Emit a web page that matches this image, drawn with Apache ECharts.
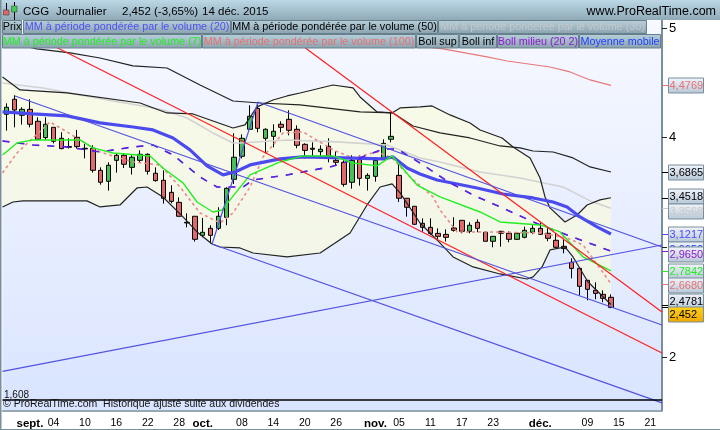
<!DOCTYPE html>
<html><head><meta charset="utf-8">
<style>html,body{margin:0;padding:0;background:#fff}#c{width:720px;height:430px}</style>
<script src="https://cdn.jsdelivr.net/npm/echarts@6/dist/echarts.min.js"></script>
</head><body><div id="c"></div>
<script>
// Trading days
const augDays=['27/08','28/08','31/08'];
const sepDays=[1,2,3,4,7,8,9,10,11,14,15,16,17,18,21,22,23,24,25,28,29,30].map(d=>d+'/09');
const octDays=[1,2,5,6,7,8,9,12,13,14,15,16,19,20,21,22,23,26,27,28,29,30].map(d=>d+'/10');
const novDays=[2,3,4,5,6,9,10,11,12,13,16,17,18,19,20,23,24,25,26,27,30].map(d=>d+'/11');
const decDays=[1,2,3,4,7,8,9,10,11,14,15,16,17,18,21,22].map(d=>d+'/12');
const categories=[...augDays,...sepDays,...octDays,...novDays,...decDays];
const tickLabels={3:'sept.',6:'04',10:'10',14:'16',18:'22',22:'28',25:'oct.',30:'08',34:'14',38:'20',42:'26',47:'nov.',50:'05',54:'11',58:'17',62:'23',68:'déc.',74:'09',78:'15',82:'21'};
const monthLabels=['sept.','oct.','nov.','déc.'];
const priceTicks=[5,4,3,2];

// open, close, low, high
const candles=[
[4.213,4.277,4.064,4.313],[4.350,4.252,4.094,4.386],[4.204,4.258,4.119,4.277],[4.258,4.122,4.094,4.350],
[4.149,3.985,3.979,4.185],[4.000,4.122,3.979,4.185],[4.094,3.967,3.948,4.094],[3.994,3.900,3.894,4.049],
[3.918,3.912,3.900,3.994],[4.003,3.918,3.900,4.070],[3.903,3.897,3.811,3.942],[3.903,3.702,3.681,3.930],
[3.702,3.593,3.571,3.729],[3.602,3.748,3.517,3.775],[3.793,3.839,3.681,3.857],[3.839,3.757,3.723,3.857],
[3.729,3.821,3.663,3.839],[3.793,3.848,3.775,3.884],[3.848,3.693,3.663,3.857],[3.675,3.608,3.599,3.729],
[3.611,3.447,3.398,3.702],[3.501,3.419,3.401,3.565],[3.410,3.283,3.280,3.456],[3.228,3.222,3.182,3.310],
[3.283,3.073,3.052,3.283],[3.109,3.137,3.091,3.267],[3.173,3.109,3.036,3.201],[3.173,3.283,3.158,3.365],
[3.273,3.538,3.201,3.547],[3.620,3.821,3.577,4.040],[3.830,3.994,3.811,4.030],[4.076,4.195,4.076,4.295],
[4.267,4.085,4.049,4.322],[3.994,4.076,3.857,4.085],[4.012,4.058,3.912,4.122],[4.122,4.094,4.049,4.149],
[4.167,4.067,4.021,4.249],[4.076,3.930,3.903,4.112],[3.939,3.884,3.811,3.948],[3.903,3.894,3.830,3.957],
[3.872,3.894,3.827,3.930],[3.921,3.830,3.775,3.994],[3.793,3.775,3.748,3.875],[3.775,3.574,3.553,3.793],
[3.593,3.793,3.535,3.839],[3.802,3.629,3.562,3.839],[3.629,3.656,3.517,3.675],[3.647,3.793,3.599,3.821],
[3.802,3.948,3.796,3.985],[3.985,4.012,3.957,4.231],[3.656,3.447,3.413,3.766],[3.447,3.365,3.280,3.447],
[3.374,3.210,3.204,3.374],[3.219,3.182,3.143,3.264],[3.182,3.127,3.112,3.264],[3.127,3.100,3.073,3.173],
[3.118,3.091,3.052,3.164],[3.176,3.155,3.143,3.274],[3.246,3.146,3.128,3.246],[3.146,3.201,3.128,3.228],
[3.228,3.173,3.137,3.255],[3.137,3.055,3.055,3.143],[3.055,3.100,3.000,3.100],[3.146,3.128,3.006,3.146],
[3.128,3.073,3.046,3.146],[3.073,3.128,3.070,3.137],[3.091,3.155,3.082,3.188],[3.137,3.173,3.119,3.201],
[3.173,3.119,3.112,3.228],[3.128,3.082,3.055,3.188],[3.064,3.000,2.991,3.128],[3.009,2.988,2.945,3.073],
[2.863,2.808,2.717,2.900],[2.808,2.644,2.562,2.808],[2.699,2.617,2.517,2.699],[2.608,2.580,2.526,2.681],
[2.571,2.535,2.499,2.608],[2.544,2.452,2.445,2.571]
];

// [day position, value]
const bollSup=[[-0.5,4.553],[1.73,4.435],[7.72,4.408],[17.02,4.316],[20.45,4.225],[23.77,4.216],[26.31,4.152],[28.86,4.088],[30.39,4.116],[31.92,4.280],[33.96,4.343],[35.74,4.380],[37.4,4.407],[41.6,4.480],[44.15,4.453],[45.04,4.371],[47.21,4.234],[49.12,4.225],[50.14,4.271],[52.68,4.280],[54.21,4.289],[56.5,4.207],[59.05,4.134],[60.33,4.070],[63.13,3.997],[64.53,3.915],[66.7,3.815],[67.97,3.632],[68.6,3.459],[69.24,3.359],[71.15,3.231],[72.68,3.295],[73.96,3.386],[75.6,3.432],[77,3.4518]];
const bollInf=[[-0.5,3.368],[0.84,3.413],[2.11,3.423],[10.26,3.423],[11.92,3.368],[14.47,3.386],[16.63,3.541],[17.91,3.550],[19.94,3.459],[22.49,3.277],[24.28,3.140],[26.19,3.030],[27.2,3.003],[29.75,2.994],[31.41,2.948],[35.74,2.912],[39.95,2.948],[43.77,3.131],[45.93,3.386],[47.59,3.550],[49.12,3.578],[50.14,3.496],[52.68,3.222],[54.85,3.067],[56.89,2.912],[59.44,2.821],[62.87,2.757],[66.31,2.711],[67.08,2.730],[68.22,2.821],[69.24,2.976],[71.15,3.003],[72.17,2.912],[74.08,2.684],[77,2.4781]];
const mm50=[[0,4.872],[3.89,4.809],[8.1,4.772],[11.92,4.726],[16.12,4.654],[20.45,4.635],[24.66,4.480],[28.86,4.334],[32.3,4.316],[37.4,4.298],[45.04,4.234],[49.24,4.225],[51.79,4.106],[55.23,4.043],[59.05,3.997],[62.87,3.924],[65.42,3.906],[67.08,3.878],[69.63,3.869],[72.17,3.815],[74.34,3.733],[77,3.6865]];
const mm30=[[-0.5,4.498],[4.66,4.453],[12.81,4.343],[16.63,4.298],[19.94,4.252],[23,4.179],[26.31,4.043],[28.86,3.951],[29.75,3.951],[35.74,3.979],[42.11,3.961],[48.48,3.933],[52.68,3.815],[55.23,3.778],[60.33,3.687],[65.42,3.632],[70.9,3.550],[74.34,3.423],[77,3.3568]];
const mm20=[[-0.5,4.234],[3.38,4.216],[7.72,4.198],[11.92,4.134],[16.12,4.097],[18.67,4.070],[21.22,3.997],[23.38,3.888],[25.55,3.742],[27.59,3.660],[29.12,3.687],[31.03,3.751],[34.85,3.806],[37.78,3.824],[42.87,3.815],[47.97,3.806],[49.24,3.824],[51.03,3.723],[52.68,3.669],[54.85,3.614],[59.95,3.541],[63.26,3.486],[67.08,3.450],[69.63,3.413],[71.41,3.368],[73.06,3.277],[75.23,3.186],[77,3.1217]];
const bollMid=[[-0.5,3.970],[3.38,3.933],[7.72,3.915],[11.92,3.869],[16.12,3.915],[18.67,3.933],[21.22,3.842],[24.66,3.641],[26.82,3.550],[30.14,3.550],[31.41,3.614],[35.74,3.660],[41.22,3.733],[45.04,3.815],[47.97,3.897],[49.75,3.897],[52.68,3.769],[56.5,3.587],[59.44,3.477],[63.76,3.340],[67.97,3.204],[71.41,3.113],[77,2.965]];
const mm7=[[-0.5,3.842],[1.35,3.951],[3.38,3.979],[9.37,3.979],[11.03,3.906],[13.58,3.860],[18.29,3.833],[19.94,3.723],[22.49,3.587],[24.28,3.413],[26.31,3.322],[27.46,3.340],[28.48,3.432],[31.03,3.660],[34.85,3.778],[37.78,3.833],[41.6,3.833],[44.15,3.769],[47.21,3.742],[49.12,3.833],[52.3,3.568],[55.23,3.459],[60.33,3.322],[62.87,3.231],[67.97,3.204],[70.52,3.140],[73.45,2.912],[77,2.7842]];
const maShort=[[-0.5,3.678],[1.35,3.860],[3.38,3.997],[5.55,4.143],[7.72,4.052],[9.37,3.979],[11.92,3.869],[16.12,3.778],[19.56,3.751],[22.11,3.550],[24.66,3.313],[27.2,3.222],[28.86,3.313],[31.03,3.550],[32.69,3.824],[35.23,4.043],[37.78,4.052],[41.6,3.888],[44.15,3.815],[47.21,3.869],[49.12,3.815],[51.41,3.641],[54.34,3.459],[55.23,3.340],[57.4,3.140],[61.6,3.140],[67.97,3.131],[71.41,3.085],[73.45,3.021],[77,2.668]];
const mm100=[[50.1,4.854],[55.61,4.809],[61.22,4.736],[63.77,4.699],[69.24,4.644],[71.79,4.599],[74.34,4.526],[77,4.4769]];

// straight trend lines
const redLines=[[[3,4.945],[83.5,2.037]],[[35.5,4.954],[83.5,2.410]]];
const blueLines=[[[1.09,4.380],[83.5,2.292]],[[32.05,4.325],[83.5,3.003]],[[26.19,3.030],[32.05,4.325]],[[26.19,3.030],[83.5,1.581]],[[-0.5,1.868],[83.5,3.021]]];
const lowestValue=1.608;

// last-value tags on the price scale
const tagValues=[4.4769,3.6865,3.4518,3.3568,3.1217,2.965,2.965,2.7842,2.668,2.4781,2.452];
const tagTexts=['4,4769','3,6865','3,4518','3,3568','3,1217','2,9650','2,9650','2,7842','2,6680','2,4781','2,452'];
const tagColors=['#e87070','#000','#000','#c8c8c8','#4a4aff','#2040ff','#9018d0','#22ee22','#e87070','#000','#000'];
const tagShift=[0,0,-2,3,0,-2,3,0,1,-4,7];

const legendRows=[
 [['Prix','#000',2,22],['MM à période pondérée par le volume (20)','#5050f0',23,231],['MM à période pondérée par le volume (50)','#000',231,438],['MM à période pondérée par le volume (30)','#c4c8cc',438,647]],
 [['MM à période pondérée par le volume (7)','#22ee22',2,202],['MM à période pondérée par le volume (100)','#e87070',202,416],['Boll sup','#000',416,459],['Boll inf','#000',459,497],['Boll milieu (20 2)','#9018d0',497,579],['Moyenne mobile','#2040ff',579,661]]
];

const FONT='"Liberation Sans",Arial,sans-serif';
const LG=(a,b)=>new echarts.graphic.LinearGradient(0,0,0,1,[{offset:0,color:a},{offset:1,color:b}]);
const chart=echarts.init(document.getElementById('c'),null,{renderer:'canvas'});

function line(name,data,color,width,extra){
  return Object.assign({name,type:'line',xAxisIndex:1,yAxisIndex:0,data,showSymbol:false,symbol:'none',silent:true,z:4,
    lineStyle:Object.assign({color,width},extra||{})});
}
const graphics=[];
// outer frame + header
graphics.push({type:'rect',shape:{x:0,y:0,width:720,height:20},style:{fill:LG('#bcd8e6','#8fa9b7')},z:100});
graphics.push({type:'rect',shape:{x:0,y:0,width:1.5,height:430},style:{fill:'#7a8f9c'},z:100});
graphics.push({type:'rect',shape:{x:0,y:429,width:720,height:1},style:{fill:'#7a8f9c'},z:100});
[[6,3,8,'#000',1],[3.5,10,5,'#e06666',7],[14,2,18,'#000',1],[11.5,6,6,'#44cc55',10]].forEach(function(r){
  graphics.push({type:'rect',shape:{x:r[0],y:r[1],width:r[3]==='#000'?1:5.5,height:r[2]},style:{fill:r[3],stroke:r[3]==='#000'?null:'#333',lineWidth:.5},z:101});
});
[['CGG',23],['Journalier',56],['2,452 (-3,65%)',122],['14 déc. 2015',202]].forEach(function(t){
  graphics.push({type:'text',x:t[1],y:11.5,style:{text:t[0],fill:'#000',font:'11.5px '+FONT,verticalAlign:'middle'},z:102});
});
graphics.push({type:'text',x:716,y:11.5,style:{text:'www.ProRealTime.com',fill:'#000',font:'12.5px '+FONT,align:'right',verticalAlign:'middle'},z:102});
legendRows.forEach(function(row,r){
  const y=r===0?20.5:34.5, h=r===0?13:13.5;
  row.forEach(function(it){
    graphics.push({type:'rect',shape:{x:it[2]+.5,y:y,width:it[3]-it[2]-1,height:h},style:{fill:LG('#b8d0dc','#8aa2ae'),stroke:'#66808c',lineWidth:1},z:100});
    graphics.push({type:'text',x:(it[2]+it[3])/2,y:y+h/2+.5,style:{text:it[0],fill:it[1],font:'10.8px '+FONT,align:'center',verticalAlign:'middle'},z:102});
  });
});
graphics.push({type:'text',x:4,y:395,style:{text:'1,608',fill:'#111',font:'10px '+FONT,verticalAlign:'middle'},z:50});
graphics.push({type:'text',x:3,y:404.5,style:{text:'© ProRealTime.com  Historique ajusté suite aux dividendes',fill:'#111',font:'10.5px '+FONT,verticalAlign:'middle'},z:50});

const series=[
 {name:'Bande',type:'custom',xAxisIndex:1,yAxisIndex:0,clip:true,silent:true,z:1,data:[[0,3]],encode:{x:0,y:1},
  renderItem:function(p,api){
    const pts=bollSup.concat(bollInf.slice().reverse()).map(q=>api.coord(q));
    return {type:'polygon',shape:{points:pts},style:{fill:'rgba(255,255,210,0.5)'}};
  }},
 {name:'Prix',type:'candlestick',xAxisIndex:0,yAxisIndex:0,data:candles,barWidth:5,silent:true,z:3,
  itemStyle:{color:'#46c255',color0:'#e06a6a',borderColor:'#000',borderColor0:'#000',borderWidth:1}},
 line('MM100',mm100,'#e87878',1.2),
 line('MM50',mm50,'#222',1.2),
 line('MM30',mm30,'#d2d2d2',1.6),
 line('Boll sup',bollSup,'#222',1.2),
 line('Boll inf',bollInf,'#222',1.2),
 line('Court',maShort,'#e88a8a',1.6,{type:[3,3]}),
 line('MM20',mm20,'#4a4aee',3.2),
 line('Moyenne mobile',bollMid,'#2020f0',1.6,{type:[7,8]}),
 line('Boll milieu',bollMid,'#9018d0',0.8,{type:[7,8]}),
 line('MM7',mm7,'#22ee22',1.4)
];
redLines.forEach((d,i)=>series.push(line('red'+i,d,'#ff2020',1.2)));
blueLines.forEach((d,i)=>series.push(line('blue'+i,d,'#5252e0',1.2)));
series.push(line('Plus bas',[[-0.5,lowestValue],[83.5,lowestValue]],'#000',1.5));
series.push({name:'Tags',type:'custom',xAxisIndex:1,yAxisIndex:0,clip:false,silent:true,z:20,
  data:tagValues.map(v=>[83.5,v]),encode:{x:0,y:1},
  renderItem:function(p,api){
    const i=p.dataIndex,c=api.coord([api.value(0),api.value(1)]),x=c[0],y=Math.round(c[1])+.5,ly=y+tagShift[i];
    const last=tagTexts[i]==='2,452';
    return {type:'group',children:[
      {type:'rect',shape:{x:x,y:y-.5,width:6,height:1},style:{fill:tagColors[i]}},
      {type:'rect',shape:{x:x+6.5,y:ly-7.5,width:35,height:15},style:{fill:last?LG('#ffd21a','#f0a800'):LG('#f2f5fc','#b6c6d6'),stroke:'#7a8f9c',lineWidth:1}},
      {type:'text',x:x+7.5,y:ly+.5,style:{text:tagTexts[i],fill:tagColors[i],font:'11px '+FONT,verticalAlign:'middle'}}
    ]};
  }});

chart.setOption({
 animation:false,backgroundColor:'#fff',
 grid:{left:2.5,right:58,top:20.5,bottom:19.5,show:true,borderWidth:0,backgroundColor:LG('#f7f9ff','#d9e4ff'),containLabel:false},
 xAxis:[
  {type:'category',data:categories,boundaryGap:true,position:'bottom',
   axisLine:{onZero:false,lineStyle:{color:'#7a8f9c',width:1.5}},
   axisTick:{alignWithLabel:true,length:5,lineStyle:{color:'#5f7480'},interval:function(i){return tickLabels[i]!==undefined;}},
   axisLabel:{interval:function(i){return tickLabels[i]!==undefined;},margin:7,hideOverlap:false,showMinLabel:true,showMaxLabel:true,
     formatter:function(v,i){const t=tickLabels[i]||'';return monthLabels.includes(t)?'{m|'+t+'}':'{d|'+t+'}';},
     rich:{m:{fontFamily:FONT,fontSize:11.5,fontWeight:'bold',color:'#000'},d:{fontFamily:FONT,fontSize:10.5,color:'#000'}}},
   splitLine:{show:false}},
  {type:'value',min:-0.5,max:83.5,show:false,axisLine:{onZero:false},splitLine:{show:false}}
 ],
 yAxis:{type:'value',position:'right',min:1.512,max:5.068,
   axisLine:{show:true,onZero:false,lineStyle:{color:'#7a8f9c',width:2}},
   axisTick:{show:true,length:5,customValues:priceTicks,lineStyle:{color:'#222'}},
   axisLabel:{customValues:priceTicks,margin:7,color:'#000',fontFamily:FONT,fontSize:13,formatter:v=>String(v)},
   splitLine:{show:false}},
 series:series,
 graphic:{elements:graphics}
});
</script></body></html>
